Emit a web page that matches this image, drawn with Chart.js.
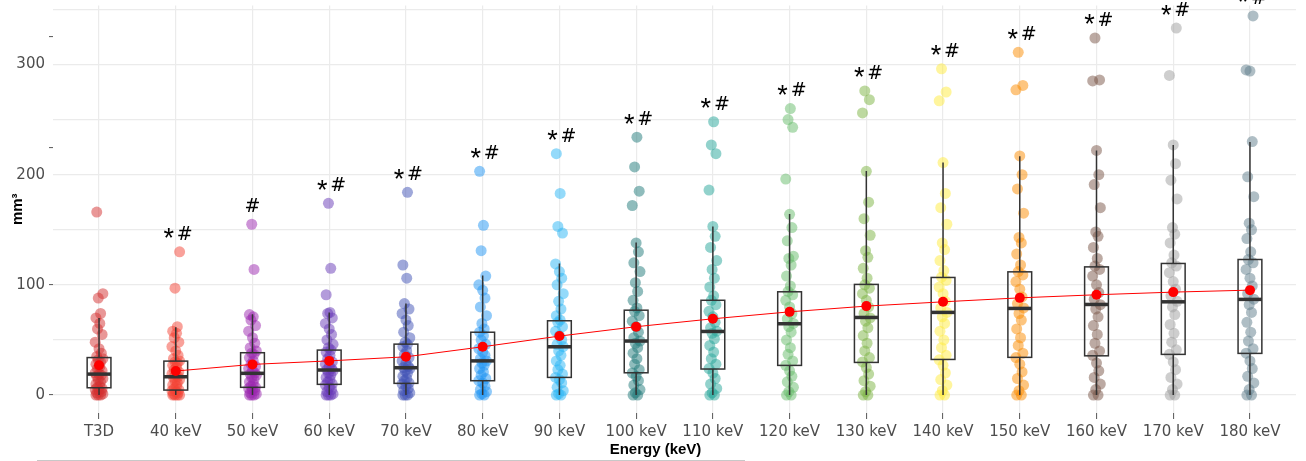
<!DOCTYPE html>
<html>
<head>
<meta charset="utf-8">
<script src="https://cdn.jsdelivr.net/npm/chart.js@4.4.1/dist/chart.umd.min.js"></script>
<style>
  body { margin: 0; background: #fff; }
</style>
</head>
<body>
<canvas id="energy-chart" width="1306" height="461"></canvas>
<script>
// categories
const labels = ['T3D', '40 keV', '50 keV', '60 keV', '70 keV', '80 keV', '90 keV', '100 keV',
  '110 keV', '120 keV', '130 keV', '140 keV', '150 keV', '160 keV', '170 keV', '180 keV'];

// significance marks above each group
const sigMarks = ['', '* #', '#', '* #', '* #', '* #', '* #', '* #',
  '* #', '* #', '* #', '* #', '* #', '* #', '* #', '* #'];

// individual volumes (mm3)
const t3d    = [0,0,0,1,2,3,4,5,6,7,8,10,12,14,15,17,18,19,20,22,24,26,28,30,32,33,35,38,42,48,55,60,65,70,74,88,92,166];
const kev40  = [0,0,0,0,1,2,3,4,5,6,8,9,11,13,14,16,17,18,19,21,23,25,27,29,30,31,33,36,40,44,48,52,56,58,62,97,130];
const kev50  = [0,0,0,1,2,4,5,6,7,8,10,12,14,16,18,19,20,22,24,26,28,31,34,37,38,40,43,47,52,58,63,68,71,73,114,155];
const kev60  = [0,0,0,1,3,5,7,9,10,12,14,16,18,20,22,23,24,26,28,30,33,36,39,41,43,46,50,55,60,65,70,74,75,91,115,174];
const kev70  = [0,0,0,2,4,6,8,10,11,13,15,17,20,22,24,25,26,29,31,34,37,40,44,46,48,52,57,63,68,74,78,83,106,118,184];
const kev80  = [0,0,1,3,5,8,11,13,15,18,21,24,27,29,31,33,36,39,42,46,50,54,57,60,65,72,80,88,95,100,108,131,154,203];
const kev90  = [0,0,1,4,7,11,14,16,19,23,27,31,36,40,44,46,50,54,58,62,66,68,72,78,85,92,100,106,112,119,147,153,183,219];
const kev100 = [0,0,2,5,9,13,17,20,23,28,33,38,43,47,49,52,57,62,67,72,76,79,86,94,102,112,120,130,138,172,185,207,234];
const kev110 = [0,0,2,6,10,15,20,24,28,33,39,45,51,56,58,61,66,71,76,82,86,90,98,106,114,122,134,144,153,186,219,227,248];
const kev120 = [0,0,3,7,12,17,22,27,31,37,43,50,57,62,65,69,74,80,86,91,94,99,108,118,124,126,140,152,164,196,243,250,260];
const kev130 = [0,0,3,8,13,19,25,30,34,40,47,54,61,67,70,74,80,86,92,97,100,106,115,125,131,145,160,175,203,256,268,276];
const kev140 = [0,0,4,9,14,20,27,32,36,43,50,58,65,71,75,79,85,92,98,104,107,113,122,132,138,155,170,183,211,267,275,296];
const kev150 = [0,0,4,9,15,21,28,34,38,45,52,60,68,74,79,83,89,96,103,109,112,118,128,138,143,165,187,200,217,277,281,311];
const kev160 = [0,0,5,10,16,22,29,36,40,47,55,63,71,78,82,87,93,100,108,114,117,124,134,144,148,170,191,200,222,285,286,324];
const kev170 = [0,0,5,10,16,23,30,37,41,48,56,64,73,80,85,90,96,103,111,117,120,127,138,146,152,178,195,210,227,290,333];
const kev180 = [0,0,5,11,17,24,31,38,42,49,57,66,75,82,87,92,99,106,114,120,123,130,142,150,156,180,198,230,294,295,344];

const groups = [t3d, kev40, kev50, kev60, kev70, kev80, kev90, kev100,
  kev110, kev120, kev130, kev140, kev150, kev160, kev170, kev180];

// box statistics
const q1      = [6.6, 4.5, 7, 9.7, 10.6, 13, 16, 20.2, 23.6, 26.9, 29.6, 32.3, 34.2, 35.6, 36.9, 37.8];
const median  = [19, 16.6, 19.7, 22.7, 24.8, 31, 43.8, 49, 57.7, 64.7, 70.4, 75, 78.6, 82.2, 84.6, 86.8];
const q3      = [34, 30.8, 38.4, 40.8, 46.2, 57, 67.4, 77, 86, 93.7, 100.4, 106.7, 111.8, 116.3, 119.4, 123];
const whiskLo = [0, 0, 0, 0, 0, 0, 0, 0, 0, 0, 0, 0, 0, 0, 0, 0];
const whiskHi = [70, 61.6, 73.4, 75, 83, 108.5, 119.4, 138.4, 153, 164.4, 203.4, 211, 216.7, 222, 227, 229.6];
const means   = [27, 21.8, 27.8, 31, 34.7, 43.8, 53.5, 62, 69.2, 75.5, 80.7, 84.6, 88.2, 91, 93.4, 95.2];

const colors = ['#d32f2f', '#f44336', '#9c27b0', '#673ab7', '#3f51b5', '#2196f3', '#29b6f6', '#1f7a7a',
  '#26a69a', '#66bb6a', '#7cb342', '#ffeb3b', '#fb8c00', '#795548', '#9e9e9e', '#607d8b'];

const jitter = [-0.04, 0.02, -0.01, 0.05, -0.03, 0.03, 0, -0.05, 0.04, -0.02, 0.01];

function withAlpha(hex, a){
  let r = parseInt(hex.slice(1,3),16), g = parseInt(hex.slice(3,5),16), b = parseInt(hex.slice(5,7),16);
  return 'rgba(' + r + ',' + g + ',' + b + ',' + a + ')';
}

let datasets = groups.map((vals, i) => ({
  type: 'scatter',
  order: 1,
  data: vals.map((v, k) => ({x: i + jitter[k % jitter.length], y: v})),
  backgroundColor: withAlpha(colors[i], 0.5),
  borderWidth: 0,
  pointRadius: 5.5,
  pointHoverRadius: 5.5
}));

const MEAN_INDEX = datasets.length;
datasets.push({
  type: 'line',
  order: 0,
  data: means.map((m, i) => ({x: i, y: m})),
  borderColor: 'red',
  borderWidth: 1,
  backgroundColor: 'red',
  pointRadius: 5,
  pointBorderWidth: 0,
  segment: { borderColor: ctx => ctx.p0DataIndex === 0 ? 'transparent' : 'red' }
});

// box plots drawn just before the mean line
const boxPlugin = {
  id: 'boxes',
  beforeDatasetDraw(chart, args){
    if (args.index !== MEAN_INDEX) return;
    const ctx = chart.ctx, xs = chart.scales.x, ys = chart.scales.y;
    ctx.save();
    ctx.strokeStyle = '#333333';
    labels.forEach((_, i) => {
      const xl = xs.getPixelForValue(i - 0.155), xr = xs.getPixelForValue(i + 0.155), xc = xs.getPixelForValue(i);
      ctx.lineWidth = 1.5;
      ctx.beginPath();
      ctx.moveTo(xc, ys.getPixelForValue(q3[i])); ctx.lineTo(xc, ys.getPixelForValue(whiskHi[i]));
      ctx.moveTo(xc, ys.getPixelForValue(q1[i])); ctx.lineTo(xc, ys.getPixelForValue(whiskLo[i]));
      ctx.stroke();
      const yt = ys.getPixelForValue(q3[i]), yb = ys.getPixelForValue(q1[i]);
      ctx.strokeRect(xl, yt, xr - xl, yb - yt);
      ctx.lineWidth = 3.5;
      ctx.beginPath();
      const ym = ys.getPixelForValue(median[i]);
      ctx.moveTo(xl, ym); ctx.lineTo(xr, ym);
      ctx.stroke();
    });
    ctx.restore();
  },
  afterDraw(chart){
    const ctx = chart.ctx, xs = chart.scales.x, ys = chart.scales.y, area = chart.chartArea;
    ctx.save();
    ctx.fillStyle = '#000';
    ctx.textAlign = 'center';
    ctx.textBaseline = 'middle';
    sigMarks.forEach((m, i) => {
      if (!m) return;
      const xc = xs.getPixelForValue(i);
      const y = ys.getPixelForValue(Math.max(...groups[i])) - 17;
      if (m.indexOf('*') >= 0) {
        ctx.font = '27px "Liberation Sans"';
        ctx.fillText('*', xc - 7, y + 5);
        ctx.font = '19px "DejaVu Sans"';
        ctx.fillText('#', xc + 9, y);
      } else {
        ctx.font = '19px "DejaVu Sans"';
        ctx.fillText('#', xc, y);
      }
    });
    // x axis title
    ctx.font = 'bold 15px "Liberation Sans"';
    ctx.fillText('Energy (keV)', (area.left + area.right) / 2 - 19, 450);
    // rule under the figure
    ctx.strokeStyle = '#c8c8c8';
    ctx.lineWidth = 1;
    ctx.beginPath();
    ctx.moveTo(37, 460.5); ctx.lineTo(745, 460.5);
    ctx.stroke();
    ctx.restore();
  }
};

let config = {
  data: { datasets },
  options: {
    responsive: false,
    animation: false,
    events: [],
    layout: { padding: { top: 0, right: 10, left: 0, bottom: 0 } },
    plugins: { legend: { display: false }, tooltip: { enabled: false } },
    scales: {
      x: {
        type: 'linear',
        min: -0.6,
        max: 15.6,
        afterBuildTicks: s => { s.ticks = labels.map((_, i) => ({value: i})); },
        afterFit: s => { s.height = 48; s.paddingLeft = 0; s.paddingRight = 0; },
        border: { display: false },
        grid: { color: '#ebebeb', lineWidth: 1.2, tickLength: 6, tickColor: '#555', tickWidth: 1 },
        ticks: {
          autoSkip: false, maxRotation: 0, padding: 4,
          color: '#4d4d4d', font: { family: 'DejaVu Sans', size: 15 },
          callback: v => labels[v]
        }
      },
      y: {
        min: -16.3,
        max: 353.5,
        afterBuildTicks: s => {
          s.ticks = [0, 50, 100, 150, 200, 225, 250, 300, 325, 350].map(v => ({value: v}));
        },
        afterFit: s => { s.width = 53; s.paddingTop = 0; s.paddingBottom = 0; },
        border: { display: false },
        title: { display: true, text: 'mm³', color: '#000', padding: { top: 9, bottom: 0 },
                 font: { family: 'Liberation Sans', size: 15, weight: 'bold' } },
        grid: {
          color: ctx => ctx.tick && ctx.tick.value % 50 === 0 ? '#ebebeb' : 'transparent',
          lineWidth: 1.2,
          tickLength: 4,
          tickWidth: 1,
          tickColor: ctx => ctx.tick && [0, 100, 225, 325].includes(ctx.tick.value) ? '#555' : 'transparent'
        },
        ticks: {
          padding: 4, color: '#4d4d4d', font: { family: 'DejaVu Sans', size: 15 },
          callback: v => (v % 100 === 0 && v <= 300) ? String(v) : ''
        }
      }
    }
  },
  plugins: [boxPlugin]
};

var myChart = new Chart(document.getElementById('energy-chart'), config);
</script>
</body>
</html>
